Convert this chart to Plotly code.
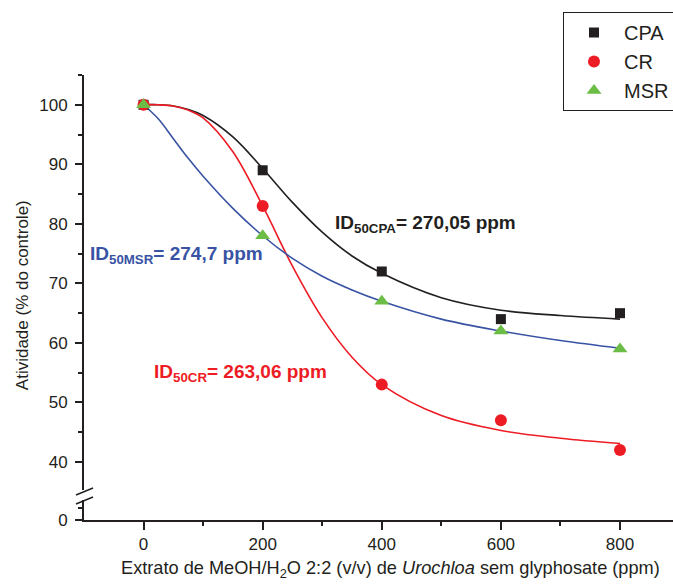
import plotly.graph_objects as go

# ---- data ----
dose = [0, 200, 400, 600, 800]
cpa = [100, 89, 72, 64, 65]
cr = [100, 83, 53, 47, 42]
msr = [100, 78, 67, 62, 59]

# fitted curves
fit_x = [0, 25, 50, 75, 100, 150, 200, 250, 300, 350, 400, 500, 600, 700, 800]
cpa_fit = [100, 100, 99.8, 99.2, 98.2, 94.6, 89.3, 83.6, 78.6, 74.6, 71.7, 67.6, 65.5, 64.6, 64.0]
cr_fit = [100, 100, 99.8, 99.1, 97.8, 92.1, 83.0, 72.9, 64.2, 57.6, 53.0, 47.8, 45.3, 44.0, 43.1]
msr_fit = [100, 97.6, 94.3, 91.0, 88.0, 82.6, 78.0, 74.2, 71.2, 68.9, 67.0, 64.0, 62.0, 60.4, 59.1]

x_ticks = [0, 200, 400, 600, 800]
y_ticks = [40, 50, 60, 70, 80, 90, 100]

FONT = "Liberation Sans, Arial, sans-serif"
INK = "#231f20"
BLACK = "#231f20"
RED = "#ed1c24"
BLUE = "#3953a4"
GREEN = "#6cbd45"

fig = go.Figure()

# fitted lines
for yv, col in [(cpa_fit, BLACK), (cr_fit, RED), (msr_fit, BLUE)]:
    fig.add_trace(go.Scatter(x=fit_x, y=yv, mode="lines",
                             line=dict(color=col, width=1.6, shape="spline", smoothing=1),
                             showlegend=False, hoverinfo="skip"))

# markers
fig.add_trace(go.Scatter(x=dose, y=cpa, mode="markers", name="CPA",
                         marker=dict(symbol="square", size=10, color=BLACK)))
fig.add_trace(go.Scatter(x=dose, y=cr, mode="markers", name="CR",
                         marker=dict(symbol="circle", size=12, color=RED)))
fig.add_trace(go.Scatter(x=dose, y=msr, mode="markers", name="MSR",
                         marker=dict(symbol="triangle-up", size=13, color=GREEN)))

# dummy trace to create the lower (broken) axis subplot
fig.add_trace(go.Scatter(x=[], y=[], xaxis="x", yaxis="y2", showlegend=False))

axis_common = dict(showline=True, linecolor=INK, linewidth=2, showgrid=False,
                   zeroline=False, ticks="outside", tickcolor=INK, tickwidth=1.5,
                   tickfont=dict(family=FONT, size=17, color=INK))

fig.update_layout(
    width=673, height=585,
    margin=dict(l=84, r=0, t=75, b=65, autoexpand=False),
    paper_bgcolor="white", plot_bgcolor="white",
    font=dict(family=FONT, color=INK),
    xaxis=dict(**axis_common, range=[-100, 889], tickvals=x_ticks, ticklen=8,
               anchor="y2", ticklabelstandoff=0,
               minor=dict(tickvals=[100, 300, 500, 700], ticklen=4, ticks="outside",
                          tickcolor=INK, tickwidth=1.5)),
    yaxis=dict(**axis_common, domain=[0.0674, 1], range=[35.3, 105], tickvals=y_ticks,
               ticklen=7, anchor="x", ticklabelstandoff=4,
               minor=dict(tickvals=[45, 55, 65, 75, 85, 95, 105], ticklen=4,
                          ticks="outside", tickcolor=INK, tickwidth=1.5)),
    yaxis2=dict(**axis_common, domain=[0, 0.045], range=[0, 8.33], tickvals=[0],
                ticklen=7, anchor="x", ticklabelstandoff=4,
                minor=dict(tickvals=[5], ticklen=4, ticks="outside",
                           tickcolor=INK, tickwidth=1.5)),
    legend=dict(x=563 / 673, y=1 - 12 / 585, xref="container", yref="container",
                xanchor="left", yanchor="top",
                bordercolor=INK, borderwidth=1, bgcolor="white", itemwidth=50,
                font=dict(family=FONT, size=20, color=INK), tracegroupgap=0),
    showlegend=True,
)

# axis break marks
for y0, y1 in [(0.0562, 0.0719), (0.036, 0.0517)]:
    fig.add_shape(type="line", xref="paper", yref="paper",
                  x0=-0.0136, x1=0.0153, y0=y0, y1=y1,
                  line=dict(color=INK, width=1.5))

# axis titles
fig.add_annotation(text="Atividade (% do controle)", xref="paper", yref="paper",
                   x=-0.105, y=0.5056, textangle=-90, showarrow=False,
                   xanchor="center", yanchor="middle",
                   font=dict(family=FONT, size=17, color=INK))
fig.add_annotation(text="Extrato de MeOH/H<sub>2</sub>O 2:2 (v/v) de <i>Urochloa</i> sem glyphosate (ppm)",
                   xref="paper", yref="paper", x=0.52, y=-0.112, showarrow=False,
                   xanchor="center", yanchor="middle",
                   font=dict(family=FONT, size=18.2, color=INK))

# ID50 labels
fig.add_annotation(text="<b>ID<sub>50CPA</sub>= 270,05 ppm</b>", x=318, y=80.0,
                   xanchor="left", yanchor="middle", showarrow=False,
                   font=dict(family=FONT, size=19, color=INK))
fig.add_annotation(text="<b>ID<sub>50MSR</sub>= 274,7 ppm</b>", x=-93.4, y=74.8,
                   xanchor="left", yanchor="middle", showarrow=False,
                   font=dict(family=FONT, size=19, color=BLUE))
fig.add_annotation(text="<b>ID<sub>50CR</sub>= 263,06 ppm</b>", x=14.3, y=55.0,
                   xanchor="left", yanchor="middle", showarrow=False,
                   font=dict(family=FONT, size=19, color=RED))

fig.write_html("out.html")
